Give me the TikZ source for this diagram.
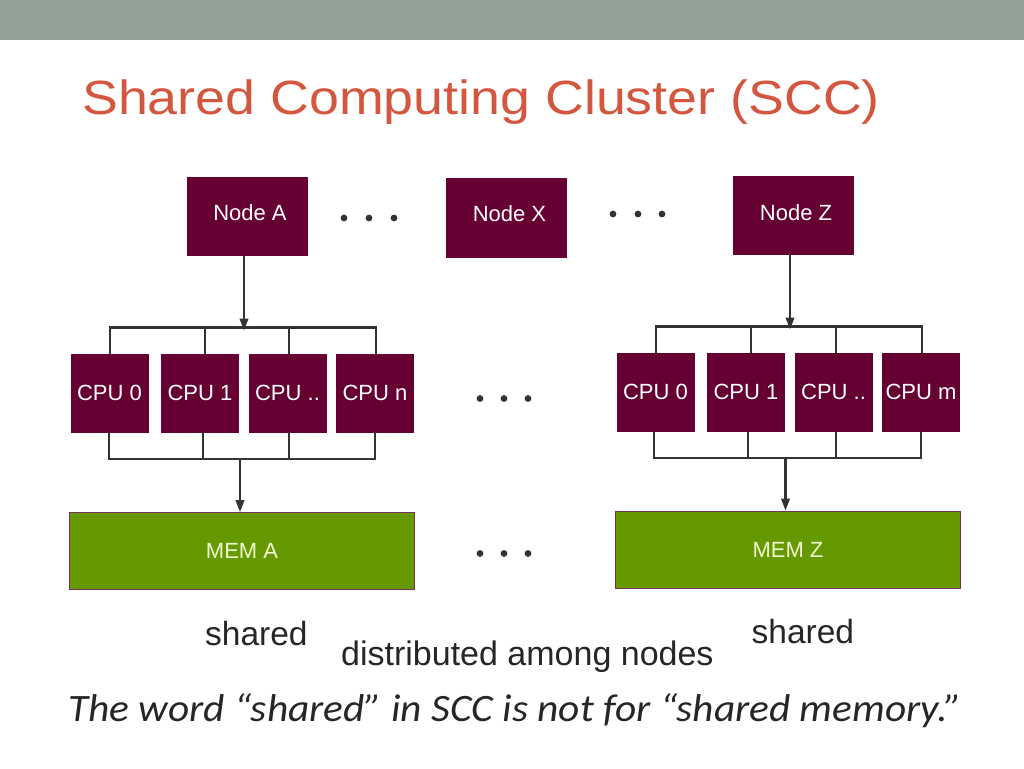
\documentclass[tikz,border=0pt]{standalone}
\usepackage{fontspec}
\setmainfont{Liberation Sans}
\newfontfamily\calib{Carlito}
\usetikzlibrary{arrows.meta}
\definecolor{barc}{RGB}{145,161,152}
\definecolor{titlec}{RGB}{211,86,62}
\definecolor{boxc}{RGB}{102,0,51}
\definecolor{memgreen}{RGB}{102,153,0}
\definecolor{memedge}{RGB}{120,50,90}
\definecolor{memtext}{RGB}{240,250,210}
\definecolor{linec}{RGB}{51,51,51}
\definecolor{textc}{RGB}{38,38,38}
\begin{document}
\begin{tikzpicture}[x=1pt,y=-1pt,
  nodebox/.style={fill=boxc, draw=boxc, minimum width=120pt, minimum height=78pt, inner sep=0pt},
  nodetext/.style={text=white, font=\fontsize{22}{22}\selectfont, inner sep=0pt},
  cpubox/.style={fill=boxc, draw=boxc, minimum width=77pt, minimum height=78pt, inner sep=0pt, text=white, font=\fontsize{22}{22}\selectfont},
  membox/.style={fill=memgreen, draw=memedge, line width=0.8pt, minimum width=345pt, minimum height=77pt, inner sep=0pt, text=memtext, font=\fontsize{22}{22}\selectfont},
  conn/.style={draw=linec, line width=2.3pt},
  arr/.style={conn, -{Triangle[length=12pt,width=8.5pt]}},
  dot/.style={circle, fill=linec, inner sep=0pt, minimum size=6.8pt},
  plain/.style={text=textc, inner sep=0pt, anchor=base west}
]
\useasboundingbox (0,0) rectangle (1024,768);
\fill[barc] (0,0) rectangle (1024,40);

% title
\node[anchor=base west, inner sep=0pt, text=titlec, font=\fontsize{48}{48}\selectfont] (title) at (82,114.5) {\scalebox{1.12}[1]{Shared Computing Cluster (SCC)}};

% top nodes
\node[nodebox, label={[nodetext, xshift=3pt, yshift=3pt]center:Node A}] (A) at (247,216) {};
\node[nodebox, minimum height=79pt, label={[nodetext, xshift=3.5pt, yshift=3.5pt]center:Node X}] (X) at (506,217.5) {};
\node[nodebox, label={[nodetext, xshift=3pt, yshift=2.5pt]center:Node Z}] (Z) at (793,215) {};

% dots between top nodes
\node[dot] (d1) at (344,218) {};
\node[dot] (d2) at (369,218) {};
\node[dot] (d3) at (394,218) {};
\node[dot] (d4) at (613,214) {};
\node[dot] (d5) at (638,214) {};
\node[dot] (d6) at (662,214) {};

% CPUs left
\node[cpubox] (a0) at (109.5,393) {CPU 0};
\node[cpubox] (a1) at (200,393) {CPU 1};
\node[cpubox] (a2) at (287.5,393) {CPU ..};
\node[cpubox] (a3) at (375,393) {CPU n};
% CPUs right
\node[cpubox] (z0) at (655.5,392) {CPU 0};
\node[cpubox] (z1) at (746,392) {CPU 1};
\node[cpubox] (z2) at (833.5,392) {CPU ..};
\node[cpubox] (z3) at (921,392) {CPU m};

% dots between CPU groups
\node[dot] (d7) at (480,398.5) {};
\node[dot] (d8) at (504,398.5) {};
\node[dot] (d9) at (528,398.5) {};

% memories
\node[membox] (mA) at (242,551) {MEM A};
\node[membox, minimum width=344.5pt] (mZ) at (788,549.5) {MEM Z};
\node[dot] (d10) at (480,553.5) {};
\node[dot] (d11) at (504,553.5) {};
\node[dot] (d12) at (528,553.5) {};

% buses left
\coordinate (bA) at (244,327.5);
\coordinate (lA) at (240,459);
\draw[conn] ([xshift=0.5pt]a0.north) |- (bA) -| ([xshift=1pt]a3.north);
\draw[conn] ([xshift=5pt]a1.north) -- ([xshift=5pt]a1.north |- bA);
\draw[conn] ([xshift=1.5pt]a2.north) -- ([xshift=1.5pt]a2.north |- bA);
\draw[arr] (bA |- A.south) -- ([yshift=-3pt]bA);
\draw[conn] ([xshift=-0.5pt]a0.south) |- (lA) -| (a3.south);
\draw[conn] ([xshift=3pt]a1.south) -- ([xshift=3pt]a1.south |- lA);
\draw[conn] ([xshift=1.5pt]a2.south) -- ([xshift=1.5pt]a2.south |- lA);
\draw[arr] (lA) -- (lA |- mA.north);

% buses right
\coordinate (bZ) at (790,326.5);
\coordinate (lZ) at (785.5,458);
\draw[conn] ([xshift=0.5pt]z0.north) |- (bZ) -| ([xshift=1pt]z3.north);
\draw[conn] ([xshift=5pt]z1.north) -- ([xshift=5pt]z1.north |- bZ);
\draw[conn] ([xshift=2.5pt]z2.north) -- ([xshift=2.5pt]z2.north |- bZ);
\draw[arr] (bZ |- Z.south) -- ([yshift=-3pt]bZ);
\draw[conn] ([xshift=-1.5pt]z0.south) |- (lZ) -| (z3.south);
\draw[conn] ([xshift=2pt]z1.south) -- ([xshift=2pt]z1.south |- lZ);
\draw[conn] ([xshift=2.5pt]z2.south) -- ([xshift=2.5pt]z2.south |- lZ);
\draw[arr] (lZ) -- (lZ |- mZ.north);

% captions
\node[plain, font=\fontsize{33.5}{33.5}\selectfont] (sA) at (205,645.5) {shared};
\node[plain, font=\fontsize{33.5}{33.5}\selectfont] (sZ) at (751.5,643) {shared};
\node[plain, font=\fontsize{34}{34}\selectfont] (dist) at (341,665) {distributed among nodes};
\node[plain, font=\calib\itshape\fontsize{38.8}{38.8}\selectfont] (note) at (68,721.7) {\scalebox{1.066}[1]{The word “shared” in SCC is not for “shared memory.”}};
\end{tikzpicture}
\end{document}
